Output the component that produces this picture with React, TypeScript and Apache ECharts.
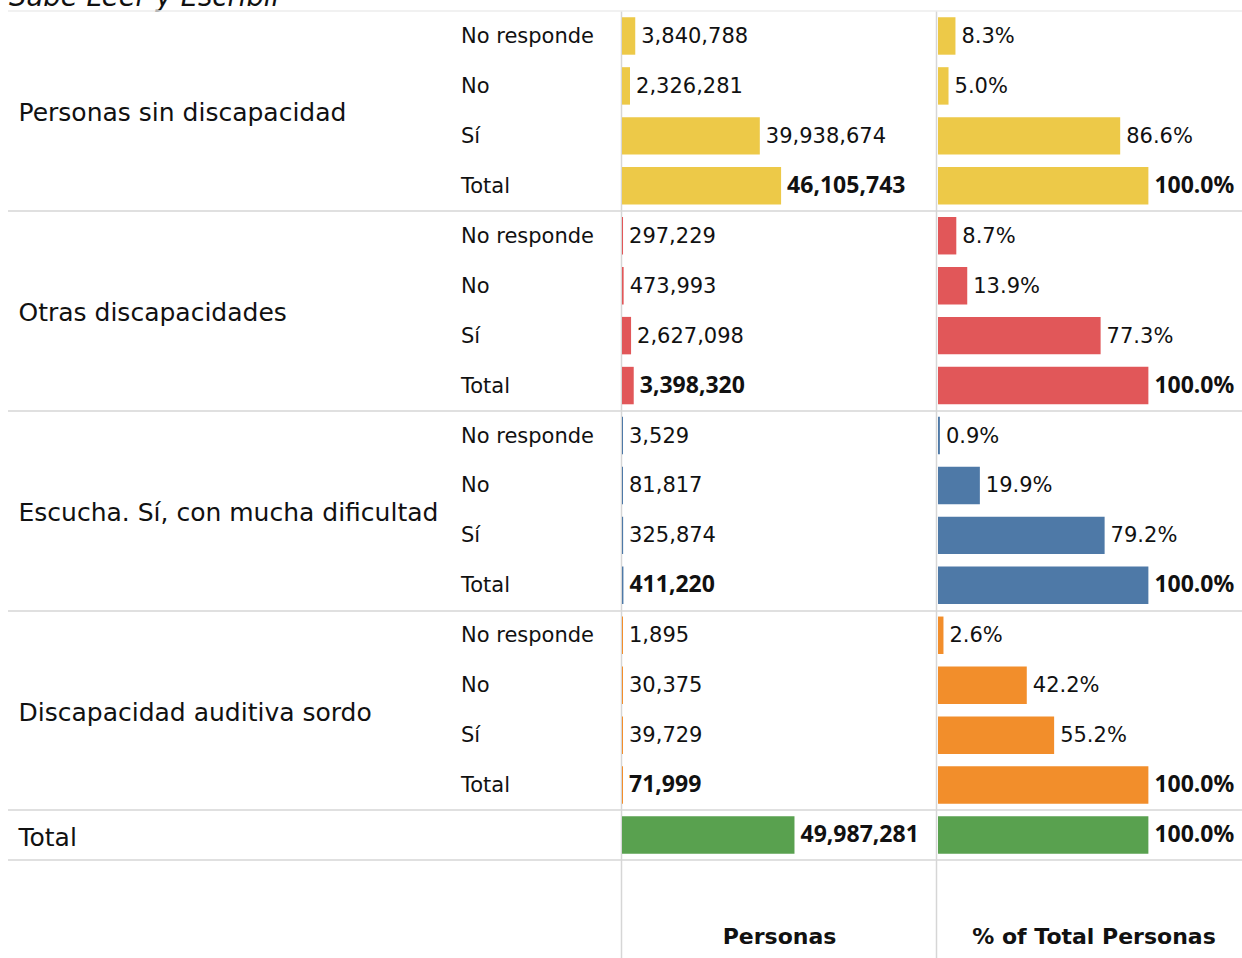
import React, { useEffect, useRef } from 'react';
import * as echarts from 'echarts';

const TITLE = 'Sabe Leer y Escribir';
const GROUPS = [
  'Personas sin discapacidad',
  'Otras discapacidades',
  'Escucha. Sí, con mucha dificultad',
  'Discapacidad auditiva sordo',
];
const TOTAL_LABEL = 'Total';
const SUBCATS = ['No responde', 'No', 'Sí', 'Total'];
const GROUP_COLORS = ['#EDC948', '#E15759', '#4E79A7', '#F28E2B'];
const TOTAL_COLOR = '#59A14F';

const PERSONAS_SIN = [3840788, 2326281, 39938674, 46105743];
const PERSONAS_OTRAS = [297229, 473993, 2627098, 3398320];
const PERSONAS_ESCUCHA = [3529, 81817, 325874, 411220];
const PERSONAS_SORDO = [1895, 30375, 39729, 71999];
const PERSONAS_TOTAL = 49987281;

const PCT_SIN = [8.3, 5.0, 86.6, 100.0];
const PCT_OTRAS = [8.7, 13.9, 77.3, 100.0];
const PCT_ESCUCHA = [0.9, 19.9, 79.2, 100.0];
const PCT_SORDO = [2.6, 42.2, 55.2, 100.0];
const PCT_TOTAL = 100.0;

const AXIS_TITLES = ['Personas', '% of Total Personas'];

const REG_FONT = 'DejaVu Sans';
const BOLD_FONT = 'Noto Sans';
const TEXT_COLOR = '#111111';
const LINE_COLOR = '#d6d6d6';

export default function App() {
  const ref = useRef<HTMLDivElement>(null);

  useEffect(() => {
    document.body.style.margin = '0';
    if (!ref.current) return;
    const chart = echarts.init(ref.current, undefined, { renderer: 'svg' });

    const personasGroups = [PERSONAS_SIN, PERSONAS_OTRAS, PERSONAS_ESCUCHA, PERSONAS_SORDO];
    const pctGroups = [PCT_SIN, PCT_OTRAS, PCT_ESCUCHA, PCT_SORDO];

    const rowLabels: string[] = [];
    const personasData: any[] = [];
    const pctData: any[] = [];
    const labelStyle = (bold: boolean) =>
      bold
        ? { fontWeight: 'bold', fontFamily: BOLD_FONT, fontSize: 23, offset: [0, -2] }
        : { fontWeight: 'normal', fontFamily: REG_FONT, fontSize: 21, offset: [0, 0] };

    GROUPS.forEach((_, gi) => {
      SUBCATS.forEach((s, si) => {
        const bold = si === SUBCATS.length - 1;
        rowLabels.push(s);
        personasData.push({
          value: personasGroups[gi][si],
          itemStyle: { color: GROUP_COLORS[gi] },
          label: labelStyle(bold),
        });
        pctData.push({
          value: pctGroups[gi][si],
          itemStyle: { color: GROUP_COLORS[gi] },
          label: labelStyle(bold),
        });
      });
    });
    rowLabels.push('');
    personasData.push({ value: PERSONAS_TOTAL, itemStyle: { color: TOTAL_COLOR }, label: labelStyle(true) });
    pctData.push({ value: PCT_TOTAL, itemStyle: { color: TOTAL_COLOR }, label: labelStyle(true) });

    const nRows = rowLabels.length; // 17
    const groupLabelData = GROUPS.map((g, gi) => ({
      name: g,
      value: [0, gi * SUBCATS.length + SUBCATS.length / 2],
    }));
    groupLabelData.push({ name: TOTAL_LABEL, value: [0, nRows - 0.5] });

    const TOP = 11;
    const HEIGHT = 849;

    chart.setOption({
      animation: false,
      grid: [
        { left: 8, top: TOP, width: 1234, height: HEIGHT },
        { left: 622, top: TOP, width: 314, height: HEIGHT },
        { left: 938, top: TOP, width: 304, height: HEIGHT },
      ],
      xAxis: [
        { gridIndex: 0, type: 'value', min: 0, max: 1, show: false },
        {
          gridIndex: 1,
          type: 'value',
          min: 0,
          max: 91000000,
          axisLine: { show: false },
          axisTick: { show: false },
          axisLabel: { show: false },
          splitLine: { show: false },
          name: AXIS_TITLES[0],
          nameLocation: 'middle',
          nameGap: 65,
          nameTextStyle: { fontFamily: REG_FONT, fontWeight: 'bold', fontSize: 22, color: TEXT_COLOR, padding: [0, 0, 0, 1] },
        },
        {
          gridIndex: 2,
          type: 'value',
          min: 0,
          max: 144.5,
          axisLine: { show: false },
          axisTick: { show: false },
          axisLabel: { show: false },
          splitLine: { show: false },
          name: AXIS_TITLES[1],
          nameLocation: 'middle',
          nameGap: 65,
          nameTextStyle: { fontFamily: REG_FONT, fontWeight: 'bold', fontSize: 22, color: TEXT_COLOR, padding: [0, 0, 0, 8] },
        },
      ],
      yAxis: [
        {
          gridIndex: 0,
          type: 'value',
          min: 0,
          max: nRows,
          interval: SUBCATS.length,
          inverse: true,
          axisLine: { show: false },
          axisTick: { show: false },
          axisLabel: { show: false },
          splitLine: {
            show: true,
            lineStyle: { color: ['#ececec', LINE_COLOR, LINE_COLOR, LINE_COLOR, LINE_COLOR, LINE_COLOR], width: 1.5 },
          },
        },
        {
          gridIndex: 1,
          type: 'category',
          data: rowLabels,
          inverse: true,
          axisLine: { show: false },
          axisTick: { show: false },
          splitLine: { show: false },
          axisLabel: {
            show: true,
            interval: 0,
            margin: 161,
            align: 'left',
            fontFamily: REG_FONT,
            fontSize: 21,
            color: TEXT_COLOR,
          },
        },
        {
          gridIndex: 2,
          type: 'category',
          data: rowLabels,
          inverse: true,
          axisLine: { show: false },
          axisTick: { show: false },
          splitLine: { show: false },
          axisLabel: { show: false },
        },
      ],
      series: [
        {
          type: 'scatter',
          xAxisIndex: 0,
          yAxisIndex: 0,
          silent: true,
          symbolSize: 1,
          itemStyle: { color: 'rgba(0,0,0,0)', opacity: 1 },
          data: groupLabelData,
          label: {
            show: true,
            position: 'right',
            distance: 10,
            offset: [0, 2],
            formatter: '{b}',
            fontFamily: REG_FONT,
            fontSize: 25,
            color: TEXT_COLOR,
          },
        },
        {
          type: 'bar',
          xAxisIndex: 1,
          yAxisIndex: 1,
          silent: true,
          barWidth: '75%',
          barMinHeight: 1,
          data: personasData,
          label: {
            show: true,
            position: 'right',
            distance: 6,
            color: TEXT_COLOR,
            formatter: (p: any) => Number(p.value).toLocaleString('en-US'),
          },
        },
        {
          type: 'bar',
          xAxisIndex: 2,
          yAxisIndex: 2,
          silent: true,
          barWidth: '75%',
          barMinHeight: 1,
          data: pctData,
          label: {
            show: true,
            position: 'right',
            distance: 6,
            color: TEXT_COLOR,
            formatter: (p: any) => Number(p.value).toFixed(1) + '%',
          },
        },
      ],
      graphic: [
        {
          type: 'text',
          left: 9,
          top: -18,
          style: {
            text: TITLE,
            fontFamily: REG_FONT,
            fontStyle: 'italic',
            fontSize: 27.5,
            fill: TEXT_COLOR,
          },
        },
        {
          type: 'line',
          shape: { x1: 621.5, y1: TOP, x2: 621.5, y2: 958 },
          style: { stroke: LINE_COLOR, lineWidth: 1.5 },
        },
        {
          type: 'line',
          shape: { x1: 936.5, y1: TOP, x2: 936.5, y2: 958 },
          style: { stroke: LINE_COLOR, lineWidth: 1.5 },
        },
      ],
    });

    return () => chart.dispose();
  }, []);

  return <div ref={ref} style={{ width: 1242, height: 958 }} />;
}
